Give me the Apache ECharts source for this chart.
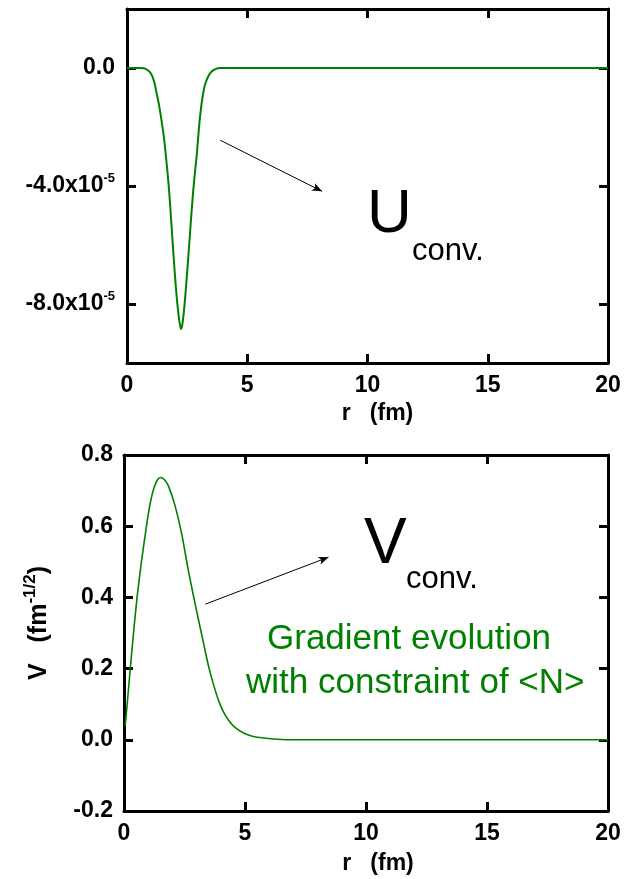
<!DOCTYPE html>
<html>
<head>
<meta charset="utf-8">
<script src="https://cdn.jsdelivr.net/npm/echarts@6/dist/echarts.min.js"></script>
<style>
  html, body { margin: 0; padding: 0; background: #fff; }
  #chart { width: 625px; height: 879px; }
</style>
</head>
<body>
<div id="chart"></div>
<script>
// Converged potential U(r), in units of 1e-5 (at radius r in fm)
const rU = [0, 0.5, 0.7, 0.82, 0.95, 1.04, 1.14, 1.23, 1.33, 1.44, 1.55, 1.65, 1.72, 1.79, 1.86, 1.93, 2.0, 2.07, 2.14, 2.2, 2.25, 2.3, 2.36, 2.41, 2.48, 2.55, 2.62, 2.69, 2.76, 2.83, 2.9, 2.97, 3.03, 3.13, 3.24, 3.38, 3.52, 3.7, 3.87, 4.5, 6, 10, 15, 20];
const uConv = [0, 0, -0.01, -0.05, -0.14, -0.26, -0.5, -0.85, -1.25, -1.8, -2.45, -3.25, -3.85, -4.6, -5.45, -6.3, -7.1, -7.8, -8.35, -8.7, -8.85, -8.7, -8.3, -7.86, -7.15, -6.4, -5.6, -4.81, -4.1, -3.5, -2.95, -2.25, -1.7, -1.05, -0.58, -0.28, -0.12, -0.03, 0, 0, 0, 0, 0, 0];

// Converged function V(r) in fm^-1/2
const rV = [0.05, 0.15, 0.26, 0.4, 0.54, 0.73, 0.95, 1.1, 1.25, 1.4, 1.53, 1.68, 1.83, 2.1, 2.38, 2.66, 2.96, 3.29, 3.5, 3.7, 3.91, 4.1, 4.32, 4.6, 4.94, 5.3, 5.77, 6.5, 7.56, 10, 15, 20];
const vConv = [0.039, 0.115, 0.2, 0.305, 0.4, 0.505, 0.61, 0.67, 0.71, 0.732, 0.737, 0.73, 0.714, 0.66, 0.58, 0.475, 0.375, 0.27, 0.205, 0.155, 0.11, 0.08, 0.055, 0.034, 0.019, 0.01, 0.005, 0.001, 0, 0, 0, 0];

// Axis ticks
const rTicks = [0, 5, 10, 15, 20];
const uTicks = [-8e-5, -4e-5, 0];
const vTicks = [-0.2, 0, 0.2, 0.4, 0.6, 0.8];

// Arrow annotations [start, end] in data coordinates
const arrowU = [[3.88, -2.45e-5], [8.11, -4.18e-5]];
const arrowV = [[3.36, 0.381], [8.45, 0.513]];

const FONT = 'Liberation Sans, Arial, Helvetica, sans-serif';
const GREEN = '#008000';

const uData = rU.map((r, i) => [r, uConv[i] * 1e-5]);
const vData = rV.map((r, i) => [r, vConv[i]]);

const lineStyleAxis = { color: '#000', width: 3 };
const tickInside = { show: true, inside: true, length: 9, lineStyle: { color: '#000', width: 3 } };
const boldLabel = { fontFamily: FONT, fontWeight: 'bold', fontSize: 23, color: '#000' };

function xMain(gridIndex, shift, gap) {
  return {
    type: 'value', gridIndex, min: rTicks[0], max: rTicks[rTicks.length - 1], interval: rTicks[1] - rTicks[0],
    axisLine: { show: true, onZero: false, lineStyle: lineStyleAxis },
    axisTick: tickInside,
    splitLine: { show: false },
    axisLabel: Object.assign({ margin: 11 }, boldLabel),
    name: 'r   (fm)', nameLocation: 'middle', nameGap: gap,
    nameTextStyle: { fontFamily: FONT, fontWeight: 'bold', fontSize: 23, color: '#000', padding: [0, 0, 0, shift] }
  };
}
function xMirror(gridIndex) {
  return {
    type: 'value', gridIndex, min: rTicks[0], max: rTicks[rTicks.length - 1], interval: rTicks[1] - rTicks[0], position: 'top',
    axisLine: { show: true, onZero: false, lineStyle: lineStyleAxis },
    axisTick: tickInside, axisLabel: { show: false }, splitLine: { show: false }
  };
}

const option = {
  animation: false,
  backgroundColor: '#fff',
  grid: [
    { left: 127, right: 17, top: 9, height: 354 },
    { left: 124, right: 17, top: 455, height: 356 }
  ],
  xAxis: [xMain(0, 20, 39), xMirror(0), xMain(1, 24, 41), xMirror(1)],
  yAxis: [
    {
      type: 'value', gridIndex: 0, min: -1e-4, max: 2e-5, interval: 2e-5,
      axisLine: { show: true, onZero: false, lineStyle: lineStyleAxis },
      axisTick: Object.assign({ customValues: uTicks }, tickInside),
      splitLine: { show: false },
      axisLabel: {
        customValues: uTicks,
        margin: 12,
        formatter: function (v) {
          if (Math.abs(v) < 1e-12) return '{m|0.0}';
          return '{m|' + (v * 1e5).toFixed(1) + 'x10}{s|-5}';
        },
        rich: {
          m: Object.assign({ lineHeight: 28 }, boldLabel),
          s: { fontFamily: FONT, fontWeight: 'bold', fontSize: 13, color: '#000', verticalAlign: 'top', lineHeight: 13 }
        }
      }
    },
    {
      type: 'value', gridIndex: 0, min: -1e-4, max: 2e-5, interval: 2e-5, position: 'right',
      axisLine: { show: true, onZero: false, lineStyle: lineStyleAxis },
      axisTick: Object.assign({ customValues: uTicks }, tickInside),
      axisLabel: { show: false }, splitLine: { show: false }
    },
    {
      type: 'value', gridIndex: 1, min: vTicks[0], max: vTicks[vTicks.length - 1], interval: 0.2,
      axisLine: { show: true, onZero: false, lineStyle: lineStyleAxis },
      axisTick: tickInside,
      splitLine: { show: false },
      axisLabel: Object.assign({ margin: 11, formatter: v => v.toFixed(1) }, boldLabel),
      name: '{m|V   (fm}{s|-1/2}{m|)}', nameLocation: 'middle', nameRotate: 90, nameGap: 68,
      nameTextStyle: {
        padding: [0, 0, 0, 20],
        rich: {
          m: { fontFamily: FONT, fontWeight: 'bold', fontSize: 25, color: '#000', lineHeight: 34 },
          s: { fontFamily: FONT, fontWeight: 'bold', fontSize: 17, color: '#000', verticalAlign: 'top', lineHeight: 17 }
        }
      }
    },
    {
      type: 'value', gridIndex: 1, min: vTicks[0], max: vTicks[vTicks.length - 1], interval: 0.2, position: 'right',
      axisLine: { show: true, onZero: false, lineStyle: lineStyleAxis },
      axisTick: tickInside, axisLabel: { show: false }, splitLine: { show: false }
    }
  ],
  series: [
    {
      type: 'line', xAxisIndex: 0, yAxisIndex: 0, data: uData,
      showSymbol: false, smooth: 0.2, lineStyle: { color: GREEN, width: 2 },
      markLine: {
        silent: true, symbol: ['none', 'arrow'], symbolSize: [6, 10],
        label: { show: false },
        lineStyle: { color: '#000', width: 1, type: 'solid' },
        data: [[{ coord: arrowU[0] }, { coord: arrowU[1] }]]
      }
    },
    {
      type: 'line', xAxisIndex: 2, yAxisIndex: 2, data: vData,
      showSymbol: false, smooth: 0.25, lineStyle: { color: GREEN, width: 1.6 },
      markLine: {
        silent: true, symbol: ['none', 'arrow'], symbolSize: [6, 10],
        label: { show: false },
        lineStyle: { color: '#000', width: 1, type: 'solid' },
        data: [[{ coord: arrowV[0] }, { coord: arrowV[1] }]]
      }
    }
  ],
  graphic: [
    { type: 'text', left: 367, top: 184, style: { text: 'U', font: '62px ' + FONT, fill: '#000' } },
    { type: 'text', left: 412, top: 236, style: { text: 'conv.', font: '31px ' + FONT, fill: '#000' } },
    { type: 'text', left: 364, top: 513, style: { text: 'V', font: '64px ' + FONT, fill: '#000' } },
    { type: 'text', left: 406, top: 564, style: { text: 'conv.', font: '31px ' + FONT, fill: '#000' } },
    { type: 'text', left: 267, top: 622, style: { text: 'Gradient evolution', font: '35px ' + FONT, fill: GREEN } },
    { type: 'text', left: 246, top: 666, style: { text: 'with constraint of <N>', font: '35px ' + FONT, fill: GREEN } }
  ]
};

const chart = echarts.init(document.getElementById('chart'), null, { renderer: 'canvas' });
chart.setOption(option);
</script>
</body>
</html>
